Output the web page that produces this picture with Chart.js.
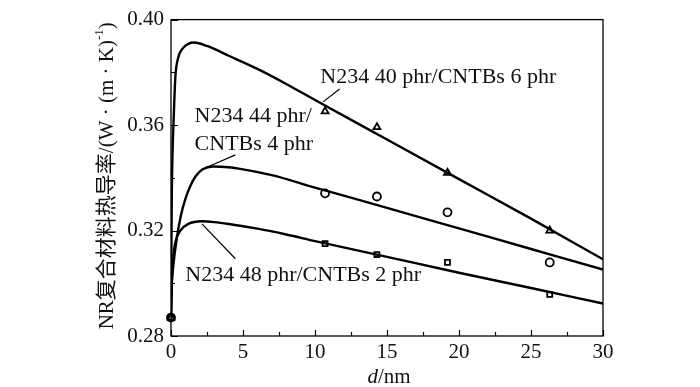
<!DOCTYPE html>
<html>
<head>
<meta charset="utf-8">
<script src="https://cdn.jsdelivr.net/npm/chart.js@4.4.1/dist/chart.umd.min.js"></script>
<style>
  html, body { margin: 0; padding: 0; background: #fff; }
  canvas { display: block; }
</style>
</head>
<body>
<canvas id="chart" width="700" height="387"></canvas>
<script>
// measured points (d in nm, thermal conductivity)
const dExp = [0, 10.7, 14.3, 19.2, 26.3];
const kTri = [0.287, 0.3652, 0.3592, 0.3419, 0.3200]; // N234 40 / CNTBs 6
const kCir = [0.287, 0.3341, 0.3329, 0.3269, 0.3079]; // N234 44 / CNTBs 4
const kSqu = [0.287, 0.3150, 0.3109, 0.3079, 0.2958]; // N234 48 / CNTBs 2

// fitted curves
const fit1D = [0, 0.05, 0.1, 0.18, 0.3, 0.5, 0.8, 1.2, 1.6, 2.5, 4, 6, 8, 10, 15, 20, 25, 30];
const fit1K = [0.287, 0.330, 0.348, 0.3615, 0.378, 0.3855, 0.389, 0.3908, 0.3913, 0.3900, 0.3863, 0.3813, 0.3756, 0.3695, 0.3545, 0.3395, 0.3245, 0.3091];
const fit2D = [0, 0.05, 0.15, 0.4, 0.7, 1.0, 1.35, 1.7, 2.2, 2.9, 4, 5, 7, 10, 15, 20, 25, 30];
const fit2K = [0.287, 0.299, 0.306, 0.317, 0.326, 0.332, 0.337, 0.3405, 0.3432, 0.3443, 0.3440, 0.3432, 0.3410, 0.3363, 0.3286, 0.3208, 0.3130, 0.3052];
const fit3D = [0, 0.05, 0.14, 0.3, 0.65, 1.2, 2.15, 3, 4, 6, 8, 10, 15, 20, 25, 30];
const fit3K = [0.287, 0.299, 0.309, 0.3155, 0.3200, 0.3225, 0.3235, 0.3232, 0.3225, 0.3207, 0.3185, 0.3160, 0.3100, 0.3040, 0.2982, 0.2923];

const xTicks = [0, 5, 10, 15, 20, 25, 30];
const yTicks = [0.28, 0.32, 0.36, 0.40];

const serif = '"Liberation Serif", "Noto Sans CJK SC", serif';

function pts(xs, ys) {
  return xs.map((x, i) => ({ x: x, y: ys[i] }));
}

function curve(xs, ys) {
  return {
    data: pts(xs, ys),
    showLine: true,
    borderColor: "#000",
    borderWidth: 2.4,
    pointRadius: 0,
    cubicInterpolationMode: "monotone",
    order: 2,
  };
}

function markers(ys, style) {
  return {
    data: pts(dExp, ys),
    showLine: false,
    pointStyle: style,
    pointRadius: style == "rect" ? 3.5 : 4,
    pointBorderColor: "#000",
    pointBackgroundColor: "rgba(0,0,0,0)",
    pointBorderWidth: 1.8,
    clip: false,
    order: 1,
  };
}

// text labels with leader lines, anchored in data units
const notes = [
  { lines: ["N234 40 phr/CNTBs 6 phr"], x: 10.37, y: 0.3781, lead: [11.71, 0.3737, 10.56, 0.3688] },
  { lines: ["N234 44 phr/", "CNTBs 4 phr"], x: 1.64, y: 0.3634, lead: [4.47, 0.3487, 2.61, 0.3443] },
  { lines: ["N234 48 phr/CNTBs 2 phr"], x: 0.99, y: 0.3030, lead: [4.47, 0.3093, 2.15, 0.3225] },
];

const framePlugin = {
  id: "frame",
  afterDraw(chart) {
    const ctx = chart.ctx;
    const a = chart.chartArea;
    const xs = chart.scales.x;
    const ys = chart.scales.y;
    ctx.save();
    ctx.strokeStyle = "#000";
    ctx.lineWidth = 1.3;
    ctx.strokeRect(a.left, a.top, a.right - a.left, a.bottom - a.top);

    // inward ticks, major + minor
    ctx.lineWidth = 1.2;
    ctx.beginPath();
    for (let v = 0; v <= 30; v += 2.5) {
      const px = Math.round(xs.getPixelForValue(v)) + 0.5;
      const len = v % 5 == 0 ? 6 : 4;
      ctx.moveTo(px, a.bottom);
      ctx.lineTo(px, a.bottom - len);
    }
    for (let i = 0; i <= 6; i++) {
      const v = 0.28 + i * 0.02;
      const py = Math.round(ys.getPixelForValue(v)) + 0.5;
      const len = i % 2 == 0 ? 7 : 4;
      ctx.moveTo(a.left, py);
      ctx.lineTo(a.left + len, py);
    }
    ctx.stroke();

    // annotations
    ctx.fillStyle = "#111";
    ctx.font = "22px " + serif;
    ctx.textBaseline = "middle";
    ctx.textAlign = "left";
    notes.forEach((n) => {
      const px = xs.getPixelForValue(n.x);
      const py = ys.getPixelForValue(n.y);
      n.lines.forEach((t, i) => ctx.fillText(t, px, py + i * 28.5));
      ctx.beginPath();
      ctx.lineWidth = 1.2;
      ctx.moveTo(xs.getPixelForValue(n.lead[0]), ys.getPixelForValue(n.lead[1]));
      ctx.lineTo(xs.getPixelForValue(n.lead[2]), ys.getPixelForValue(n.lead[3]));
      ctx.stroke();
    });

    // x title: italic d + /nm
    const cx = (a.left + a.right) / 2 + 2;
    const ty = 377;
    ctx.font = "italic 21px " + serif;
    const w1 = ctx.measureText("d").width;
    ctx.font = "21px " + serif;
    const w2 = ctx.measureText("/nm").width;
    let x0 = cx - (w1 + w2) / 2;
    ctx.font = "italic 21px " + serif;
    ctx.fillText("d", x0, ty);
    ctx.font = "21px " + serif;
    ctx.fillText("/nm", x0 + w1, ty);

    // y title, with a raised -1
    const main = "NR复合材料热导率/(W · (m · K)";
    ctx.save();
    ctx.translate(107, (a.top + a.bottom) / 2 - 2);
    ctx.rotate(-Math.PI / 2);
    ctx.font = "21px " + serif;
    const wm = ctx.measureText(main).width;
    const wc = ctx.measureText(")").width;
    ctx.font = "13px " + serif;
    const ws = ctx.measureText("-1").width;
    let sx = -(wm + ws + wc) / 2;
    ctx.font = "21px " + serif;
    ctx.fillText(main, sx, 0);
    ctx.font = "13px " + serif;
    ctx.fillText("-1", sx + wm, -7);
    ctx.font = "21px " + serif;
    ctx.fillText(")", sx + wm + ws, 0);
    ctx.restore();

    ctx.restore();
  },
};

new Chart(document.getElementById("chart"), {
  type: "scatter",
  data: {
    datasets: [
      curve(fit1D, fit1K),
      curve(fit2D, fit2K),
      curve(fit3D, fit3K),
      markers(kTri, "triangle"),
      markers(kCir, "circle"),
      markers(kSqu, "rect"),
    ],
  },
  options: {
    responsive: false,
    animation: false,
    devicePixelRatio: 1,
    layout: { padding: { top: 18, right: 97, left: 0, bottom: 0 } },
    plugins: { legend: { display: false }, tooltip: { enabled: false } },
    scales: {
      x: {
        type: "linear",
        min: 0,
        max: 30,
        afterBuildTicks: (s) => { s.ticks = xTicks.map((v) => ({ value: v })); },
        ticks: { color: "#111", font: { family: serif, size: 21 }, padding: 4, maxRotation: 0 },
        grid: { display: false, drawTicks: false },
        border: { display: false },
        afterFit: (s) => { s.height = 51; },
      },
      y: {
        min: 0.28,
        max: 0.40,
        afterBuildTicks: (s) => { s.ticks = yTicks.map((v) => ({ value: v })); },
        ticks: {
          color: "#111",
          font: { family: serif, size: 21 },
          padding: 7,
          callback: (v) => v.toFixed(2),
        },
        grid: { display: false, drawTicks: false },
        border: { display: false },
        afterFit: (s) => { s.width = 171; },
      },
    },
  },
  plugins: [framePlugin],
});
</script>
</body>
</html>
